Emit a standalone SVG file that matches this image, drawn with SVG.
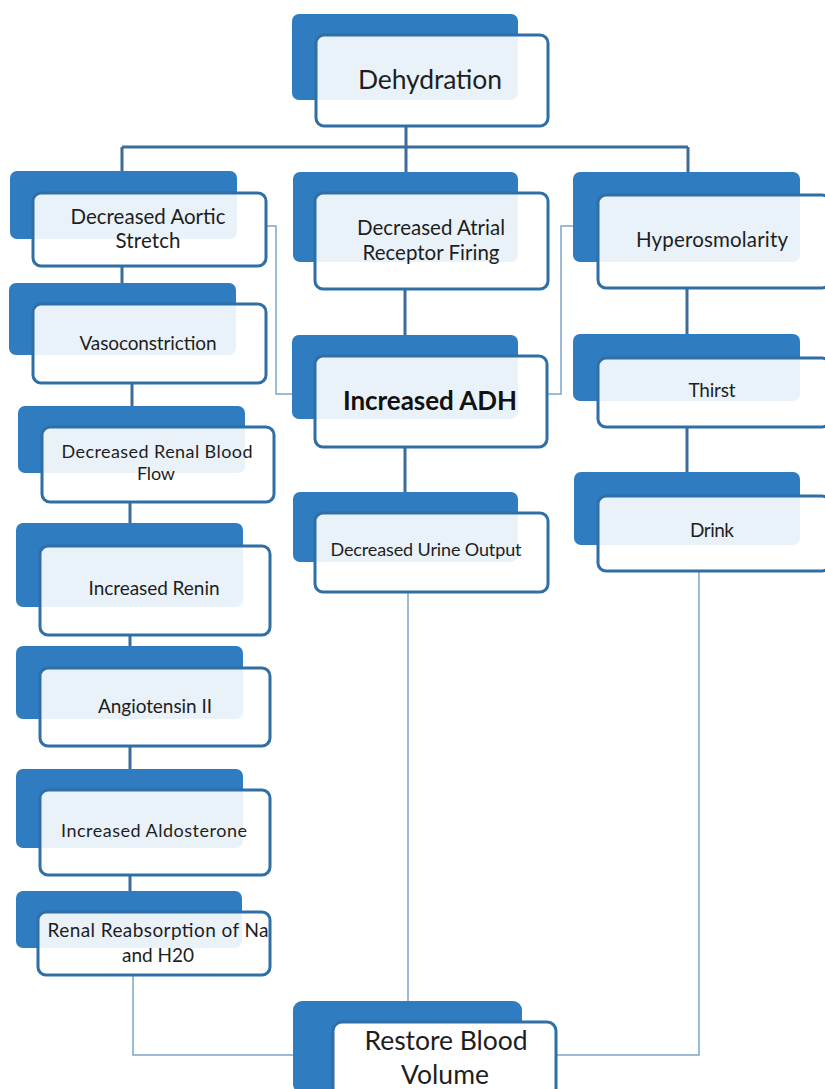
<svg xmlns="http://www.w3.org/2000/svg" width="825" height="1089" viewBox="0 0 825 1089">
<style>
.bg{fill:#2f7cc0}
.fg{fill:#ffffff;fill-opacity:0.9;stroke:#2f6fa6;stroke-width:3}
.t{font-family:Lato,"Liberation Sans",sans-serif;font-size:19px;fill:#1e1e1e;text-anchor:middle}
.s{font-size:18px}
.m{font-size:20.5px}
.big{font-size:26.5px}
.bold{font-weight:bold;font-size:26px;fill:#111}
.thick{fill:none;stroke:#3b6c9c;stroke-width:3}
.thin{fill:none;stroke:#7ea5c9;stroke-width:1.5}
</style>
<rect width="825" height="1089" fill="#ffffff"/>
<g id="connectors">
<path class="thick" d="M406,126V147M122,147H688M122,147V171M406,147V172M688,147V172M122,266V283M132,383V406M130,502V523M130,635V646M130,746V769M130,875V891M405,289V335M405,447V492M687,288V334M687,427V472"/>
<path class="thin" d="M266,226H276V394H293M573,226H561V394H547M133,975V1055H293M699,571V1055H555M408,592V1002"/>
</g>
<g id="dehydration"><rect class="bg" x="292" y="14" width="226" height="86" rx="7"/><rect class="fg" x="316" y="35" width="232" height="91" rx="8"/><text class="t big" x="430" y="89" textLength="144">Dehydration</text></g>
<g id="aortic"><rect class="bg" x="10" y="171" width="227" height="68" rx="7"/><rect class="fg" x="33" y="193" width="233" height="73" rx="8"/><text class="t m" x="148" y="224" textLength="155">Decreased Aortic</text><text class="t m" x="148" y="248" textLength="65">Stretch</text></g>
<g id="vasoconstriction"><rect class="bg" x="9" y="283" width="227" height="72" rx="7"/><rect class="fg" x="33" y="304" width="233" height="79" rx="8"/><text class="t" x="148" y="350" textLength="137">Vasoconstriction</text></g>
<g id="renal-flow"><rect class="bg" x="18" y="406" width="227" height="67" rx="7"/><rect class="fg" x="42" y="427" width="232" height="75" rx="8"/><text class="t s" x="157" y="458" textLength="191">Decreased Renal Blood</text><text class="t s" x="156" y="480" textLength="38">Flow</text></g>
<g id="renin"><rect class="bg" x="16" y="523" width="227" height="84" rx="7"/><rect class="fg" x="40" y="546" width="230" height="89" rx="8"/><text class="t" x="154" y="595" textLength="131">Increased Renin</text></g>
<g id="angiotensin"><rect class="bg" x="16" y="646" width="227" height="73" rx="7"/><rect class="fg" x="40" y="668" width="230" height="78" rx="8"/><text class="t" x="155" y="713" textLength="114">Angiotensin II</text></g>
<g id="aldosterone"><rect class="bg" x="16" y="769" width="227" height="79" rx="7"/><rect class="fg" x="40" y="790" width="230" height="85" rx="8"/><text class="t s" x="154" y="837" textLength="186">Increased Aldosterone</text></g>
<g id="reabsorption"><rect class="bg" x="16" y="891" width="226" height="57" rx="7"/><rect class="fg" x="38" y="912" width="232" height="63" rx="8"/><text class="t" x="158" y="937" textLength="221">Renal Reabsorption of Na</text><text class="t" x="158" y="962">and H20</text></g>
<g id="atrial"><rect class="bg" x="293" y="172" width="225" height="90" rx="7"/><rect class="fg" x="315" y="193" width="233" height="96" rx="8"/><text class="t m" x="431" y="235" textLength="148">Decreased Atrial</text><text class="t m" x="431" y="260" textLength="137">Receptor Firing</text></g>
<g id="adh"><rect class="bg" x="292" y="335" width="226" height="84" rx="7"/><rect class="fg" x="315" y="356" width="232" height="91" rx="8"/><text class="t bold" x="430" y="410" textLength="174">Increased ADH</text></g>
<g id="urine"><rect class="bg" x="293" y="492" width="225" height="70" rx="7"/><rect class="fg" x="315" y="513" width="233" height="79" rx="8"/><text class="t s" x="426" y="556" textLength="191">Decreased Urine Output</text></g>
<g id="hyperosmolarity"><rect class="bg" x="573" y="172" width="227" height="90" rx="7"/><rect class="fg" x="598" y="195" width="232" height="93" rx="8"/><text class="t m" x="712" y="247" textLength="152">Hyperosmolarity</text></g>
<g id="thirst"><rect class="bg" x="573" y="334" width="227" height="67" rx="7"/><rect class="fg" x="598" y="358" width="232" height="69" rx="8"/><text class="t" x="712" y="397" textLength="47">Thirst</text></g>
<g id="drink"><rect class="bg" x="574" y="472" width="226" height="73" rx="7"/><rect class="fg" x="598" y="496" width="232" height="75" rx="8"/><text class="t" x="712" y="537" textLength="44">Drink</text></g>
<g id="restore"><rect class="bg" x="293" y="1001" width="229" height="92" rx="9"/><rect class="fg" x="333" y="1022" width="223" height="75" rx="9" style="fill-opacity:1"/><text class="t big" x="446" y="1050" textLength="163">Restore Blood</text><text class="t big" x="445" y="1084" textLength="88">Volume</text></g>
</svg>
